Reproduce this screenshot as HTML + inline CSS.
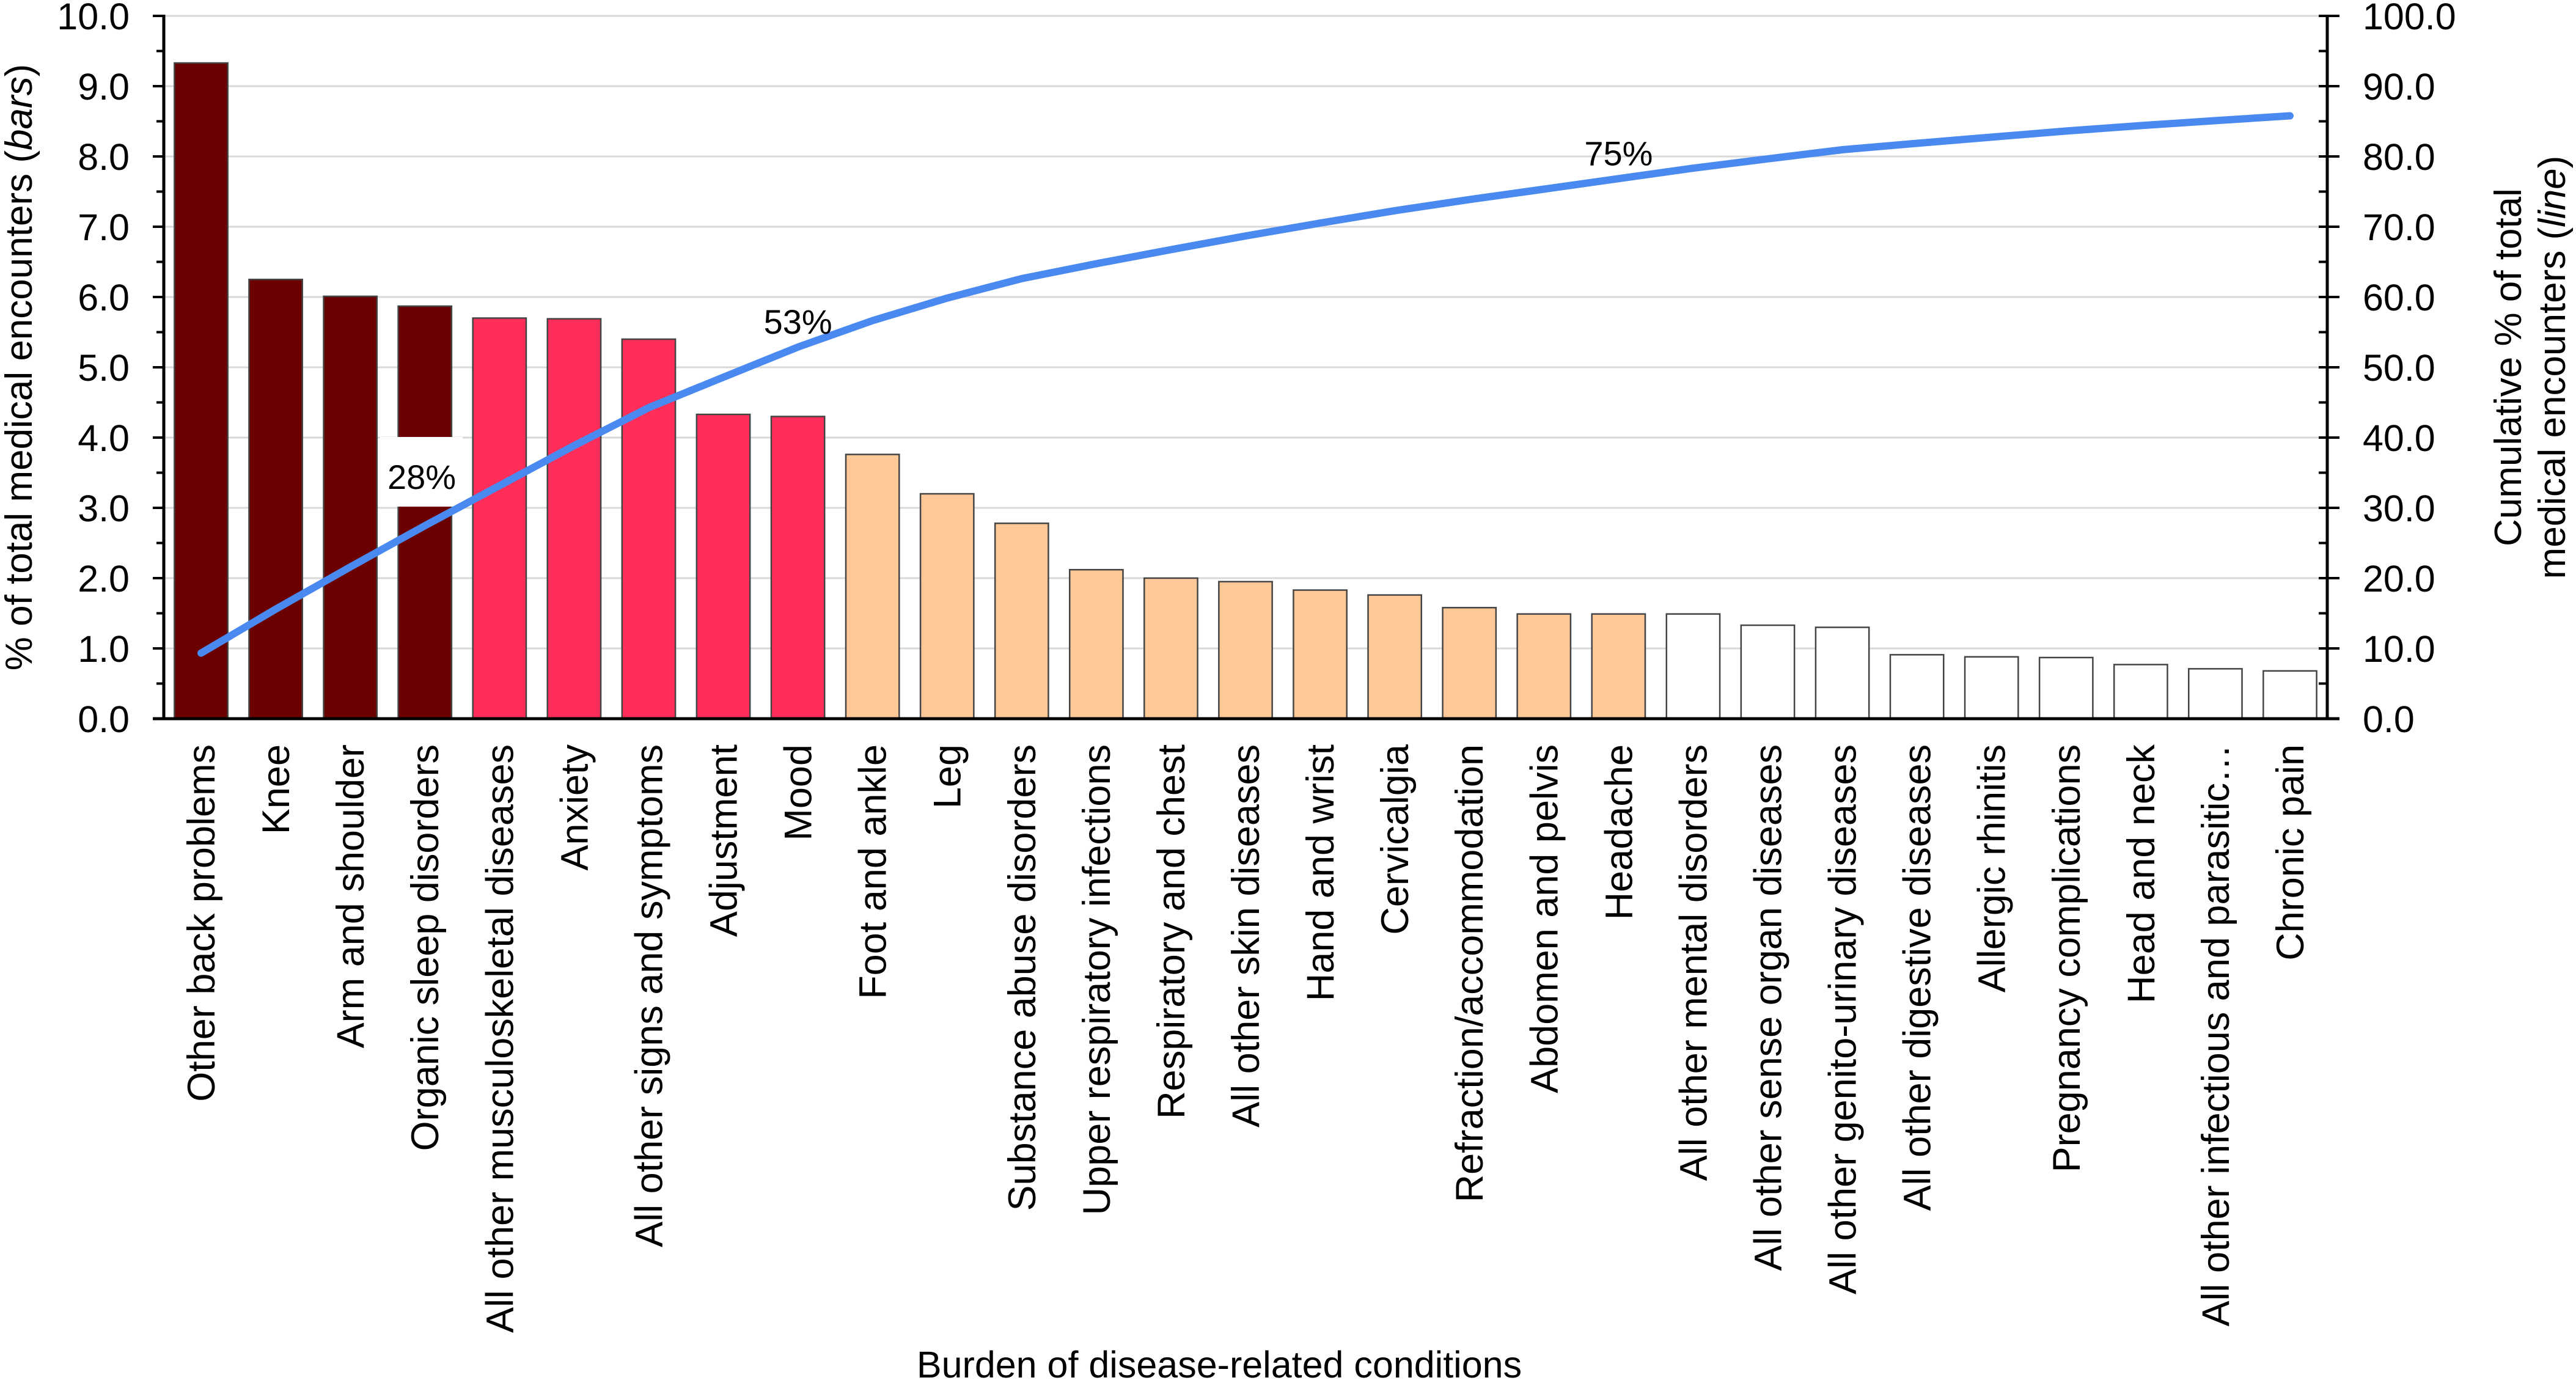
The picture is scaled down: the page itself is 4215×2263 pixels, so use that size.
<!DOCTYPE html>
<html><head><meta charset="utf-8"><style>
html,body{margin:0;padding:0;background:#fff;}
svg{display:block;font-family:"Liberation Sans",Arial,sans-serif;}
</style></head><body>
<svg id="chart" width="4215" height="2263" viewBox="0 0 4215 2263" xmlns="http://www.w3.org/2000/svg">
<g id="grid"></g>
<g id="bars"></g>
<g id="axes"></g>
<g id="line"></g>
<g id="labels"></g>
<text transform="translate(52,601) rotate(-90)" text-anchor="middle" font-size="62">% of total medical encounters (<tspan font-style="italic">bars</tspan>)</text>
<text transform="translate(4125,601) rotate(-90)" text-anchor="middle" font-size="62"><tspan x="0" dy="0">Cumulative % of total</tspan><tspan x="0" dy="72">medical encounters (<tspan font-style="italic">line</tspan>)</tspan></text>
<text x="1995" y="2254" text-anchor="middle" font-size="61">Burden of disease-related conditions</text>
</svg>
<script>
const categories = ["Other back problems","Knee","Arm and shoulder","Organic sleep disorders","All other musculoskeletal diseases","Anxiety","All other signs and symptoms","Adjustment","Mood","Foot and ankle","Leg","Substance abuse disorders","Upper respiratory infections","Respiratory and chest","All other skin diseases","Hand and wrist","Cervicalgia","Refraction/accommodation","Abdomen and pelvis","Headache","All other mental disorders","All other sense organ diseases","All other genito-urinary diseases","All other digestive diseases","Allergic rhinitis","Pregnancy complications","Head and neck","All other infectious and parasitic\u2026","Chronic pain"];
const barValues = [9.33,6.25,6.01,5.87,5.70,5.69,5.40,4.33,4.30,3.76,3.20,2.78,2.12,2.00,1.95,1.83,1.76,1.58,1.49,1.49,1.49,1.33,1.30,0.91,0.88,0.87,0.77,0.71,0.68];
const cumulativeValues = [9.33,15.58,21.59,27.46,33.16,38.85,44.25,48.58,52.88,56.64,59.84,62.62,64.74,66.74,68.69,70.52,72.28,73.86,75.35,76.84,78.33,79.66,80.96,81.87,82.75,83.62,84.39,85.10,85.78];
const barGroups = [0,0,0,0,1,1,1,1,1,2,2,2,2,2,2,2,2,2,2,2,3,3,3,3,3,3,3,3,3];
const leftTicks = ["0.0","1.0","2.0","3.0","4.0","5.0","6.0","7.0","8.0","9.0","10.0"];
const rightTicks = ["0.0","10.0","20.0","30.0","40.0","50.0","60.0","70.0","80.0","90.0","100.0"];
const annotations = [{i:3,text:"28%"},{i:8,text:"53%"},{i:19,text:"75%"}];

const NS="http://www.w3.org/2000/svg";
const X0=268,X1=3808,Y0=1176,Y1=26;
const groupColors=["#6b0000","#ff2d5a","#ffc896","#ffffff"];
const band=(X1-X0)/categories.length;
const xc=i=>X0+band*(i+0.5);
const yL=v=>Y0-(v/10)*(Y0-Y1);
const yR=v=>Y0-(v/100)*(Y0-Y1);
function mk(tag,attrs,parent,text){const e=document.createElementNS(NS,tag);for(const k in attrs)e.setAttribute(k,attrs[k]);if(text!==undefined)e.textContent=text;parent.appendChild(e);return e;}
const G=id=>document.getElementById(id);

leftTicks.forEach((t,k)=>{const v=parseFloat(t);if(v===0)return;
 const l=mk('line',{x1:X0,x2:X1,y1:yL(v),y2:yL(v),stroke:'#d9d9d9','stroke-width':3},G('grid'));
 
 });

const bw=band*0.715;
barValues.forEach((v,i)=>{
 const r=mk('rect',{x:xc(i)-bw/2,y:yL(v),width:bw,height:Y0-yL(v),fill:groupColors[barGroups[i]],stroke:'#444','stroke-width':2.5},G('bars'));
 
 
});

const ax=G('axes');
let a=mk('line',{x1:X0,x2:X0,y1:Y1-2,y2:Y0+2,stroke:'#000','stroke-width':5},ax);


a=mk('line',{x1:X1,x2:X1,y1:Y1-2,y2:Y0+2,stroke:'#000','stroke-width':5},ax);


a=mk('line',{x1:250,x2:X1+20,y1:Y0,y2:Y0,stroke:'#000','stroke-width':5},ax);


for(let k=0;k<=20;k++){const y=Y0-k*(Y0-Y1)/20;const major=k%2===0;
 mk('line',{x1:major?250:256,x2:X0,y1:y,y2:y,stroke:'#000','stroke-width':4},ax);
 mk('line',{x1:X1-14,x2:major?X1+20:X1,y1:y,y2:y,stroke:'#000','stroke-width':4},ax);}
leftTicks.forEach(t=>{const e=mk('text',{x:212,y:yL(parseFloat(t))+22,'text-anchor':'end','font-size':61},ax,t);
 
 });
rightTicks.forEach(t=>{const e=mk('text',{x:3866,y:yR(parseFloat(t))+22,'text-anchor':'start','font-size':61},ax,t);
 
 });

categories.forEach((c,i)=>{const e=mk('text',{transform:`translate(${xc(i)+22},1218) rotate(-90)`,'text-anchor':'end','font-size':63},G('labels'),c);
 
 });

// white box behind 28% label (below the line)
const box=mk('rect',{x:622,y:715,width:135,height:114,fill:'#fff'},G('bars'));



const pts=cumulativeValues.map((v,i)=>xc(i).toFixed(1)+','+yR(v).toFixed(1)).join(' ');
const pl=mk('polyline',{points:pts,fill:'none',stroke:'#4a8af0','stroke-width':12,'stroke-linecap':'round','stroke-linejoin':'round'},G('line'));



annotations.forEach(an=>{
 const x=xc(an.i),y=yR(cumulativeValues[an.i]);
 let tx,ty;
 if(an.i===3){tx=634;ty=800;}
 else {tx=x-56;ty=y-22;}
 const e=mk('text',{x:tx,y:ty,'text-anchor':'start','font-size':56},G('labels'),an.text);
 
 
});
</script>
</body></html>
